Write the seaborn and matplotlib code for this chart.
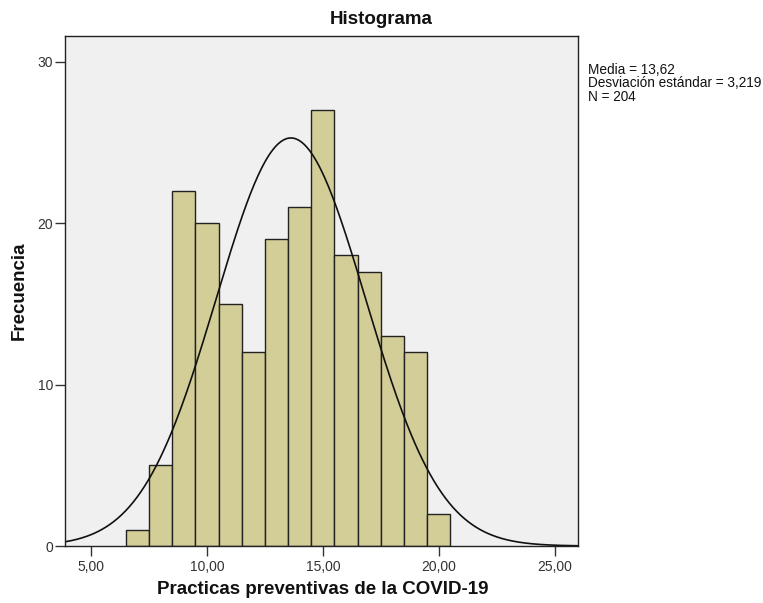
import numpy as np
import pandas as pd
import matplotlib
matplotlib.use("Agg")
import matplotlib.pyplot as plt
import seaborn as sns
from matplotlib.ticker import FuncFormatter

# Data
bin_centers = [7, 8, 9, 10, 11, 12, 13, 14, 15, 16, 17, 18, 19, 20]
counts = [1, 5, 22, 20, 15, 12, 19, 21, 27, 18, 17, 13, 12, 2]
mean_val = 13.62
sd_val = 3.219
n_val = 204
x_ticks = [5, 10, 15, 20, 25]
y_ticks = [0, 10, 20, 30]

sns.set_theme(style="white")
plt.rcParams['font.family'] = ['Liberation Sans', 'DejaVu Sans']

fig = plt.figure(figsize=(7.63, 6.03), dpi=100)
ax = fig.add_axes([65/763, 1-546/603, (578-65)/763, (546-36)/603])
ax.set_facecolor('#F0F0F0')

df = pd.DataFrame({"x": bin_centers, "w": counts})
sns.histplot(data=df, x="x", weights="w", binwidth=1.0, binrange=(6.5, 20.5), ax=ax,
             color='#D3CE97', alpha=1, edgecolor='#222222', linewidth=1.0)

xs = np.linspace(3.88, 26.0, 400)
ys = n_val * 1.0 * np.exp(-0.5 * ((xs - mean_val) / sd_val) ** 2) / (sd_val * np.sqrt(2 * np.pi))
ax.plot(xs, ys, color='#111111', linewidth=1.2)

ax.set_xlim(3.88, 26.0)
ax.set_ylim(0, 31.6)
ax.set_xticks(x_ticks)
ax.set_yticks(y_ticks)
ax.xaxis.set_major_formatter(FuncFormatter(lambda v, p: f"{v:.2f}".replace('.', ',')))
ax.tick_params(axis='both', which='both', direction='out', length=7, width=1,
               colors='#333333', labelsize=10, bottom=True, left=True)
ax.tick_params(axis='x', pad=3)
ax.tick_params(axis='y', pad=1.5)
for s in ax.spines.values():
    s.set_color('#222222')
    s.set_linewidth(1.0)

fig.text(0.5, 1-19.5/603, "Histograma", fontsize=13.5, fontweight='bold', color='#111111',
         ha='center', va='center')
ax.set_xlabel("")
ax.set_ylabel("")
fig.text(323/763, 1-590/603, "Practicas preventivas de la COVID-19", fontsize=13.5,
         fontweight='bold', color='#111111', ha='center', va='center')
fig.text(19/763, 1-291/603, "Frecuencia", fontsize=13.5, fontweight='bold', color='#111111',
         rotation=90, ha='center', va='center')

fig.text(588/763, 1-63/603, f"Media = {mean_val:.2f}".replace('.', ',') + "\n"
         + f"Desviación estándar = {sd_val:.3f}".replace('.', ',') + "\n"
         + f"N = {n_val}",
         fontsize=9.8, color='#111111', va='top', ha='left', linespacing=0.95)

fig.savefig("out.png", dpi=100, facecolor='white')
